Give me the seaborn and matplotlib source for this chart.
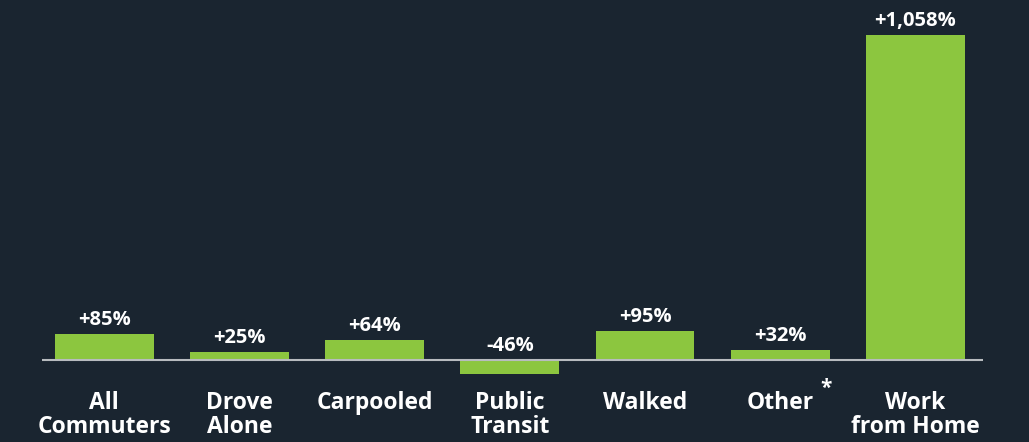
import matplotlib
matplotlib.use("Agg")
import matplotlib.pyplot as plt
import seaborn as sns
import pandas as pd

categories = ["All\nCommuters", "Drove\nAlone", "Carpooled", "Public\nTransit",
              "Walked", "Other", "Work\nfrom Home"]
changes = [85, 25, 64, -46, 95, 32, 1058]
value_labels = ["+85%", "+25%", "+64%", "-46%", "+95%", "+32%", "+1,058%"]

bg = "#1a2530"
green = "#8cc63f"
font = "Open Sans"

df = pd.DataFrame({"mode": categories, "change": changes})

fig = plt.figure(figsize=(10.29, 4.42), dpi=100, facecolor=bg)
ax = fig.add_axes([42 / 1029, 62 / 442, 941 / 1029, 380 / 442])
ax.set_facecolor(bg)

sns.barplot(data=df, x="mode", y="change", color=green, width=0.73,
            saturation=1, ax=ax)

ax.set_ylim(-65, 1172)
ax.set_xlim(-0.46, 6.5)
ax.axhline(0, color="#b8bcbf", lw=1.5, zorder=3)

for s in ax.spines.values():
    s.set_visible(False)
ax.set_yticks([])
ax.set_xlabel("")
ax.set_ylabel("")
ax.tick_params(axis="x", length=0, pad=8, colors="white")
for t in ax.get_xticklabels():
    t.set_fontfamily(font)
    t.set_fontweight("bold")
    t.set_fontsize(16.5)
    t.set_linespacing(0.98)
    t.set_verticalalignment("top")

for i, (v, lab) in enumerate(zip(changes, value_labels)):
    base = max(v, 0)
    ax.annotate(lab, (i, base), xytext=(0, 3), textcoords="offset points",
                ha="center", va="bottom", color="white", fontsize=14.5,
                fontweight="bold", family=font)

# asterisk after "Other"
ax.annotate("*", (5, 0), xytext=(33, -13), textcoords="offset points",
            ha="center", va="top", color="white", fontsize=15,
            fontweight="bold", family=font)

fig.savefig("out.png", dpi=100, facecolor=bg)
